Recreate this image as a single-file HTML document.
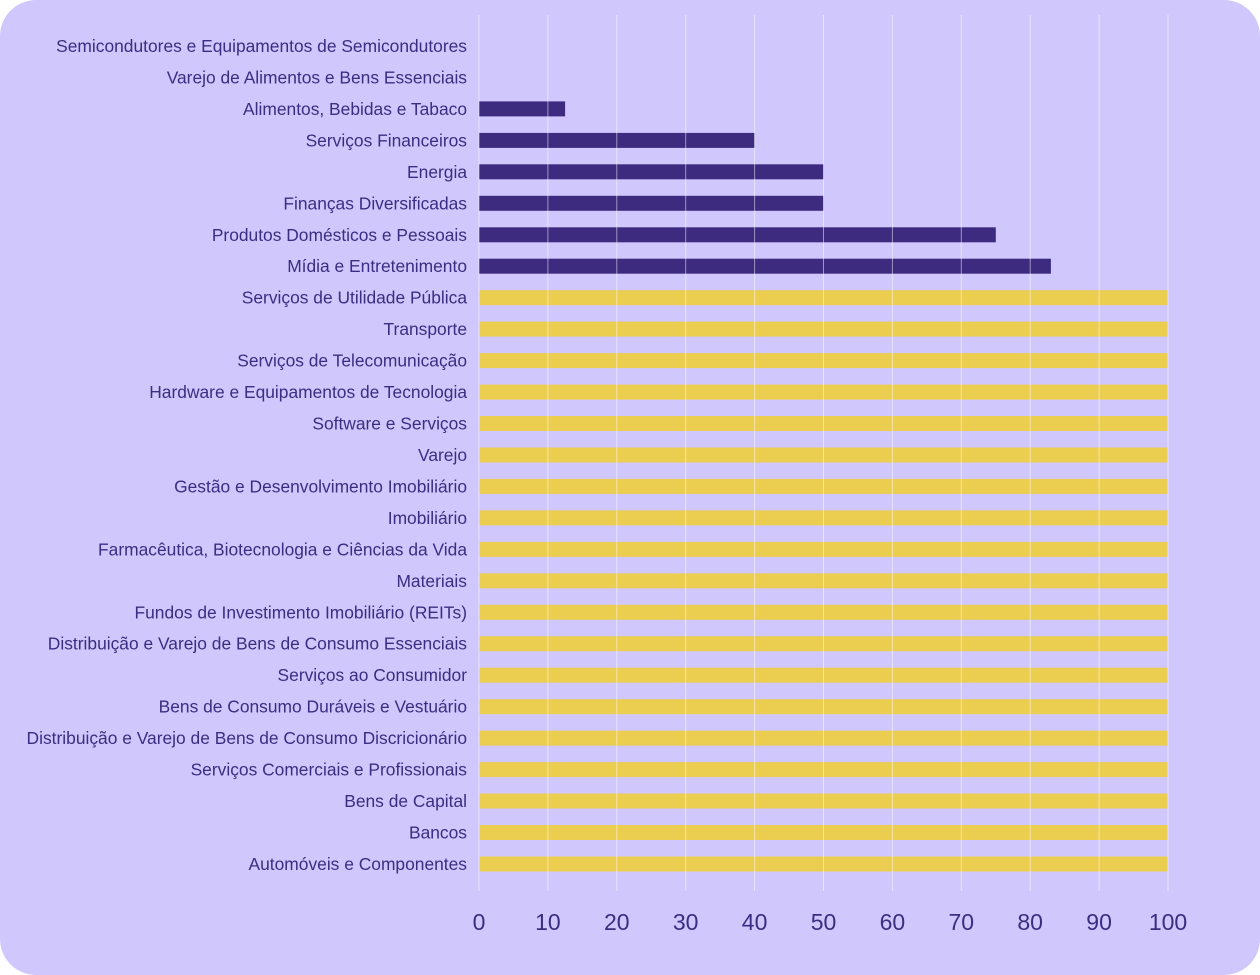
<!DOCTYPE html>
<html><head><meta charset="utf-8"><style>
html,body{margin:0;padding:0;background:#fff;}
svg{display:block;}
text{font-family:"Liberation Sans",sans-serif;fill:#3b2d82;}
</style></head><body>
<svg width="1260" height="975" viewBox="0 0 1260 975">
<rect x="0" y="0" width="1260" height="975" rx="36" fill="#d0c8fd"/>
<g>
<rect x="479" y="101.4" width="86.1" height="15" fill="#3d2b80"/>
<rect x="479" y="132.9" width="275.6" height="15" fill="#3d2b80"/>
<rect x="479" y="164.3" width="344.5" height="15" fill="#3d2b80"/>
<rect x="479" y="195.8" width="344.5" height="15" fill="#3d2b80"/>
<rect x="479" y="227.3" width="516.8" height="15" fill="#3d2b80"/>
<rect x="479" y="258.7" width="571.9" height="15" fill="#3d2b80"/>
<g fill="#ebcd4f">
<rect x="479" y="290.2" width="689" height="15"/>
<rect x="479" y="321.6" width="689" height="15"/>
<rect x="479" y="353.1" width="689" height="15"/>
<rect x="479" y="384.6" width="689" height="15"/>
<rect x="479" y="416.0" width="689" height="15"/>
<rect x="479" y="447.5" width="689" height="15"/>
<rect x="479" y="478.9" width="689" height="15"/>
<rect x="479" y="510.4" width="689" height="15"/>
<rect x="479" y="541.9" width="689" height="15"/>
<rect x="479" y="573.3" width="689" height="15"/>
<rect x="479" y="604.8" width="689" height="15"/>
<rect x="479" y="636.2" width="689" height="15"/>
<rect x="479" y="667.7" width="689" height="15"/>
<rect x="479" y="699.2" width="689" height="15"/>
<rect x="479" y="730.6" width="689" height="15"/>
<rect x="479" y="762.1" width="689" height="15"/>
<rect x="479" y="793.5" width="689" height="15"/>
<rect x="479" y="825.0" width="689" height="15"/>
<rect x="479" y="856.5" width="689" height="15"/>
</g>
</g>
<g stroke="#ffffff" stroke-opacity="0.5" stroke-width="1">
<line x1="479" y1="15" x2="479" y2="891"/>
<line x1="547.9" y1="15" x2="547.9" y2="891"/>
<line x1="616.8" y1="15" x2="616.8" y2="891"/>
<line x1="685.7" y1="15" x2="685.7" y2="891"/>
<line x1="754.6" y1="15" x2="754.6" y2="891"/>
<line x1="823.5" y1="15" x2="823.5" y2="891"/>
<line x1="892.4" y1="15" x2="892.4" y2="891"/>
<line x1="961.3" y1="15" x2="961.3" y2="891"/>
<line x1="1030.2" y1="15" x2="1030.2" y2="891"/>
<line x1="1099.1" y1="15" x2="1099.1" y2="891"/>
<line x1="1168" y1="15" x2="1168" y2="891"/>
</g>
<g text-anchor="end" font-size="17.4">
<text x="467" y="52">Semicondutores e Equipamentos de Semicondutores</text>
<text x="467" y="83.5">Varejo de Alimentos e Bens Essenciais</text>
<text x="467" y="114.9">Alimentos, Bebidas e Tabaco</text>
<text x="467" y="146.4">Serviços Financeiros</text>
<text x="467" y="177.8">Energia</text>
<text x="467" y="209.3">Finanças Diversificadas</text>
<text x="467" y="240.8">Produtos Domésticos e Pessoais</text>
<text x="467" y="272.2">Mídia e Entretenimento</text>
<text x="467" y="303.7">Serviços de Utilidade Pública</text>
<text x="467" y="335.1">Transporte</text>
<text x="467" y="366.6">Serviços de Telecomunicação</text>
<text x="467" y="398.1">Hardware e Equipamentos de Tecnologia</text>
<text x="467" y="429.5">Software e Serviços</text>
<text x="467" y="461.0">Varejo</text>
<text x="467" y="492.4">Gestão e Desenvolvimento Imobiliário</text>
<text x="467" y="523.9">Imobiliário</text>
<text x="467" y="555.4">Farmacêutica, Biotecnologia e Ciências da Vida</text>
<text x="467" y="586.8">Materiais</text>
<text x="467" y="618.3">Fundos de Investimento Imobiliário (REITs)</text>
<text x="467" y="649.7">Distribuição e Varejo de Bens de Consumo Essenciais</text>
<text x="467" y="681.2">Serviços ao Consumidor</text>
<text x="467" y="712.7">Bens de Consumo Duráveis e Vestuário</text>
<text x="467" y="744.1">Distribuição e Varejo de Bens de Consumo Discricionário</text>
<text x="467" y="775.6">Serviços Comerciais e Profissionais</text>
<text x="467" y="807.0">Bens de Capital</text>
<text x="467" y="838.5">Bancos</text>
<text x="467" y="870.0">Automóveis e Componentes</text>
</g>
<g text-anchor="middle" font-size="23">
<text x="479" y="930">0</text>
<text x="547.9" y="930">10</text>
<text x="616.8" y="930">20</text>
<text x="685.7" y="930">30</text>
<text x="754.6" y="930">40</text>
<text x="823.5" y="930">50</text>
<text x="892.4" y="930">60</text>
<text x="961.3" y="930">70</text>
<text x="1030.2" y="930">80</text>
<text x="1099.1" y="930">90</text>
<text x="1168" y="930">100</text>
</g>
</svg>
</body></html>
